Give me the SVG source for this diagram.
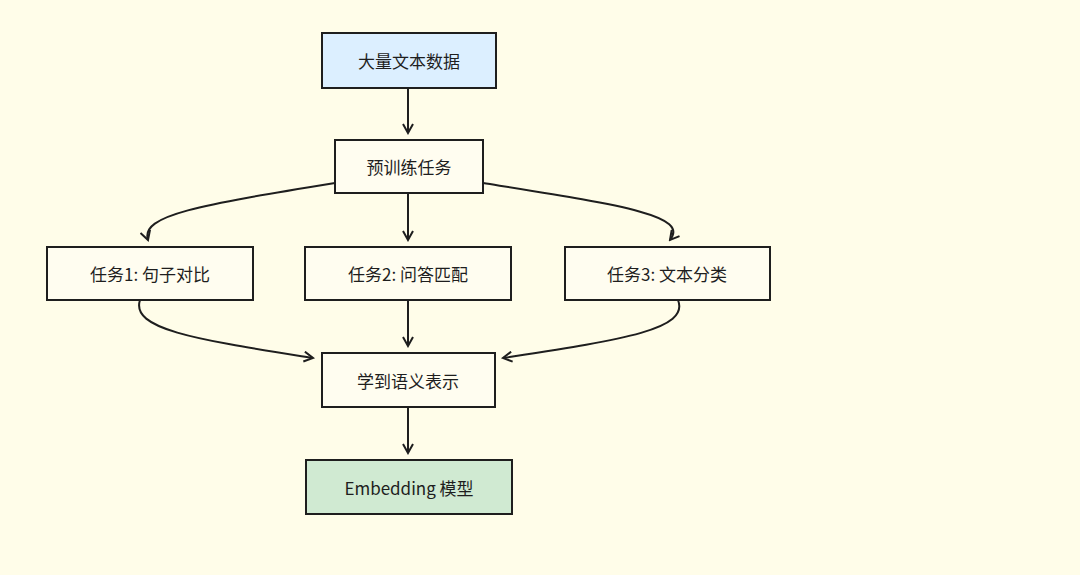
<svg xmlns="http://www.w3.org/2000/svg" width="1080" height="575" viewBox="0 0 1080 575">
<style>
.n{fill:#fffdf0;stroke:#1e1e1e;stroke-width:2}
.t{font-family:"Noto Sans CJK SC","Liberation Sans",sans-serif;font-size:17px;fill:#1e1e1e;text-anchor:middle;dominant-baseline:central}
.c{fill:none;stroke:#1e1e1e;stroke-width:2;marker-end:url(#a)}
</style>
<defs><marker id="a" markerWidth="12" markerHeight="12" refX="10" refY="6" orient="auto" markerUnits="userSpaceOnUse"><path d="M1,1 L10,6 L1,11" fill="none" stroke="#1e1e1e" stroke-width="2"/></marker></defs>
<rect width="1080" height="575" fill="#fffde9"/>
<g id="connectors">
<path class="c" d="M408,88 L408,133"/>
<path class="c" d="M335,183 C200,205 140,215 148,240"/>
<path class="c" d="M408,193 L408,240"/>
<path class="c" d="M483,183 C620,205 690,215 670,240"/>
<path class="c" d="M140,300 C130,330 200,340 313,358"/>
<path class="c" d="M408,300 L408,346"/>
<path class="c" d="M678,300 C690,330 620,340 503,358"/>
<path class="c" d="M408,407 L408,453"/>
</g>
<g id="n1"><rect class="n" x="322" y="33" width="174" height="55" style="fill:#dcefff"/><text class="t" x="409" y="60">大量文本数据</text></g>
<g id="n2"><rect class="n" x="335" y="140" width="148" height="53"/><text class="t" x="409" y="166">预训练任务</text></g>
<g id="n3"><rect class="n" x="47" y="247" width="206" height="53"/><text class="t" x="150" y="273">任务1: 句子对比</text></g>
<g id="n4"><rect class="n" x="305" y="247" width="206" height="53"/><text class="t" x="408" y="273">任务2: 问答匹配</text></g>
<g id="n5"><rect class="n" x="565" y="247" width="205" height="53"/><text class="t" x="667" y="273">任务3: 文本分类</text></g>
<g id="n6"><rect class="n" x="322" y="353" width="173" height="54"/><text class="t" x="408" y="380">学到语义表示</text></g>
<g id="n7"><rect class="n" x="306" y="460" width="206" height="54" style="fill:#d0ead2"/><text class="t" x="409" y="487">Embedding 模型</text></g>
</svg>
